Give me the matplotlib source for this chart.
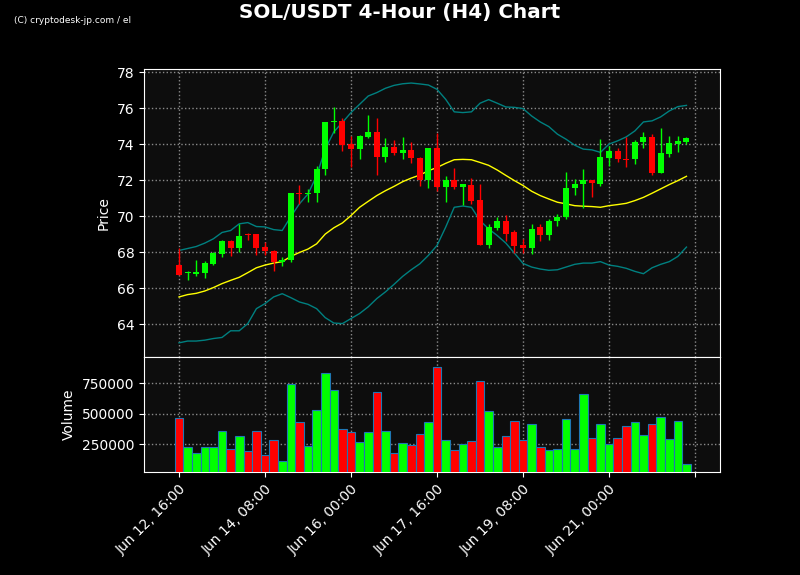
import numpy as np
import matplotlib
matplotlib.use("Agg")
import matplotlib.pyplot as plt

#   Data (4H candles, Jun 12 16:00 ->)
opens  = [67.26, 66.82, 66.78, 66.84, 67.34, 67.91, 68.59, 68.22, 69.00, 68.98,
          68.26, 68.07, 67.43, 67.58, 71.28, 71.23, 71.26, 72.60, 75.20, 75.29,
          73.98, 73.70, 74.40, 74.68, 73.26, 73.85, 73.48, 73.68, 73.24, 72.00,
          73.79, 71.60, 72.02, 71.60, 71.75, 70.92, 68.37, 69.33, 69.70, 69.09,
          68.37, 68.22, 69.37, 68.94, 69.72, 69.94, 71.54, 71.77, 72.02, 71.80,
          73.20, 73.63, 73.17, 73.15, 74.09, 74.40, 72.41, 73.46, 74.01, 74.13]
closes = [66.71, 66.88, 66.89, 67.37, 67.93, 68.59, 68.22, 68.92, 68.94, 68.22,
          68.06, 67.43, 67.58, 71.28, 71.23, 71.30, 72.63, 75.23, 75.27, 73.94,
          73.70, 74.46, 74.68, 73.26, 73.85, 73.48, 73.68, 73.20, 72.00, 73.79,
          71.60, 72.02, 71.60, 71.80, 70.86, 68.37, 69.38, 69.70, 69.01, 68.33,
          68.22, 69.31, 68.94, 69.75, 69.97, 71.58, 71.80, 72.02, 71.82, 73.26,
          73.63, 73.15, 73.13, 74.13, 74.40, 72.41, 73.52, 74.07, 74.18, 74.35]
highs  = [68.24, 66.95, 67.54, 67.48, 67.98, 68.68, 68.65, 69.57, 69.07, 69.02,
          68.55, 68.13, 67.72, 71.28, 71.73, 71.50, 72.78, 75.23, 76.06, 75.44,
          74.46, 74.51, 75.60, 75.47, 74.31, 74.22, 74.42, 74.11, 73.30, 73.79,
          74.64, 72.21, 72.67, 71.80, 72.11, 71.78, 69.57, 69.97, 70.08, 69.24,
          68.74, 69.57, 69.57, 69.85, 70.12, 72.46, 72.06, 72.61, 72.02, 74.27,
          73.87, 73.81, 74.37, 74.25, 74.68, 74.55, 74.92, 74.46, 74.46, 74.40]
lows   = [66.71, 66.43, 66.65, 66.58, 67.28, 67.72, 67.80, 68.00, 68.65, 67.85,
          67.85, 66.93, 67.21, 67.43, 70.68, 70.77, 70.80, 72.28, 74.64, 73.63,
          72.74, 73.17, 74.31, 72.28, 72.98, 73.39, 73.15, 72.94, 71.67, 71.54,
          71.38, 70.79, 71.49, 70.60, 70.68, 68.37, 68.24, 69.24, 68.61, 67.94,
          67.94, 67.91, 68.63, 68.68, 69.46, 69.83, 71.17, 70.45, 71.05, 71.65,
          72.78, 73.00, 72.70, 72.87, 73.76, 72.28, 72.41, 73.31, 73.54, 74.00]
volumes = [463100, 225400, 176200, 225400, 225400, 356500, 209000, 318300, 192600, 356500,
           162600, 282800, 110700, 741800, 430300, 233600, 528700, 832000, 692700, 373000,
           348400, 266400, 348400, 676200, 356500, 176200, 258200, 244500, 332000, 430300,
           881100, 282800, 200800, 250000, 274600, 766300, 520500, 225400, 315600, 438500,
           282800, 413900, 225400, 200800, 209000, 454900, 209000, 659800, 299200, 413900,
           250000, 299200, 397500, 430300, 323800, 413900, 471300, 291000, 438500, 86100]
sma20  = [65.51, 65.64, 65.71, 65.84, 66.03, 66.25, 66.43, 66.60, 66.86, 67.13,
          67.28, 67.39, 67.47, 67.76, 67.98, 68.17, 68.46, 69.00, 69.35, 69.62,
          70.03, 70.49, 70.82, 71.14, 71.41, 71.65, 71.91, 72.11, 72.28, 72.52,
          72.70, 72.93, 73.13, 73.15, 73.13, 72.98, 72.82, 72.56, 72.26, 71.97,
          71.70, 71.38, 71.14, 70.95, 70.77, 70.68, 70.58, 70.55, 70.53, 70.49,
          70.58, 70.64, 70.71, 70.86, 71.04, 71.27, 71.51, 71.75, 71.97, 72.21]
bb_upper = [68.09, 68.20, 68.31, 68.50, 68.74, 69.09, 69.20, 69.57, 69.64, 69.42,
            69.40, 69.25, 69.20, 69.97, 70.68, 71.23, 72.24, 73.72, 74.68, 75.20,
            75.75, 76.21, 76.67, 76.86, 77.10, 77.26, 77.35, 77.39, 77.34, 77.28,
            77.04, 76.49, 75.79, 75.75, 75.79, 76.27, 76.47, 76.27, 76.06, 76.04,
            75.97, 75.56, 75.23, 74.97, 74.55, 74.27, 73.94, 73.72, 73.68, 73.54,
            74.00, 74.18, 74.40, 74.73, 75.23, 75.29, 75.51, 75.84, 76.08, 76.15]
bb_lower = [62.96, 63.06, 63.06, 63.11, 63.20, 63.26, 63.63, 63.63, 64.03, 64.86,
            65.14, 65.51, 65.69, 65.47, 65.23, 65.10, 64.86, 64.36, 64.06, 64.03,
            64.31, 64.59, 64.96, 65.42, 65.79, 66.21, 66.65, 67.02, 67.35, 67.82,
            68.37, 69.38, 70.49, 70.56, 70.49, 69.75, 69.29, 68.92, 68.50, 67.94,
            67.37, 67.17, 67.06, 66.99, 67.02, 67.17, 67.32, 67.39, 67.39, 67.47,
            67.28, 67.21, 67.10, 66.93, 66.80, 67.13, 67.32, 67.47, 67.76, 68.28]
tick_pos    = [0, 10, 20, 30, 40, 50, 60]
tick_labels = ["Jun 12, 16:00", "Jun 14, 08:00", "Jun 16, 00:00", "Jun 17, 16:00",
               "Jun 19, 08:00", "Jun 21, 00:00", ""]

#   Figure
fig = plt.figure(figsize=(8, 5.75), dpi=100, facecolor="black")
ax = fig.add_axes([0.18, 0.379, 0.72, 0.501])
axv = fig.add_axes([0.18, 0.179, 0.72, 0.2], sharex=ax)

x = np.arange(len(opens))
cols = ["#00ff00" if c >= o else "#ff0000" for o, c in zip(opens, closes)]

for a in (ax, axv):
    a.set_facecolor("#0d0d0d")
    for s in a.spines.values():
        s.set_color("white")
    a.tick_params(colors="white", labelsize=10)
    a.grid(True, color="#aaaaaa", linestyle=":", linewidth=1, alpha=0.8)
    a.set_axisbelow(True)

#   Candles
ax.vlines(x, lows, highs, colors=cols, linewidth=1, zorder=3)
bottoms = np.minimum(opens, closes)
heights = np.maximum(np.abs(np.array(closes) - np.array(opens)), 0.04)
ax.bar(x, heights, bottom=bottoms, width=0.7, color=cols, zorder=4)

#   Bollinger bands / SMA
ax.plot(x, bb_upper, color="#008080", linewidth=1, zorder=2)
ax.plot(x, bb_lower, color="#008080", linewidth=1, zorder=2)
ax.plot(x, sma20, color="yellow", linewidth=1, zorder=2)

ax.set_ylim(62.17, 78.17)
ax.set_yticks(range(64, 79, 2))
ax.set_ylabel("Price", color="white", fontsize=10)
ax.tick_params(axis="x", labelbottom=False)

#   Volume
axv.bar(x, volumes, width=1.0, color=cols, edgecolor="#1f77b4", linewidth=0.8, zorder=3)
axv.set_ylim(20000, 965000)
axv.set_yticks([250000, 500000, 750000])
axv.set_yticklabels(["250000", "500000", "750000"])
axv.set_ylabel("Volume", color="white", fontsize=10)

axv.set_xlim(-4.07, 62.9)
axv.set_xticks(tick_pos)
axv.set_xticklabels(tick_labels, rotation=45, ha="right", rotation_mode="anchor")

fig.suptitle("SOL/USDT 4-Hour (H4) Chart", color="white", fontsize=14.4,
             fontweight="bold", y=0.995)
fig.text(0.018, 0.960, "(C) cryptodesk-jp.com / el", color="white", fontsize=6.5,
         family="Liberation Sans Narrow")

fig.savefig("out.png", dpi=100, facecolor="black")
